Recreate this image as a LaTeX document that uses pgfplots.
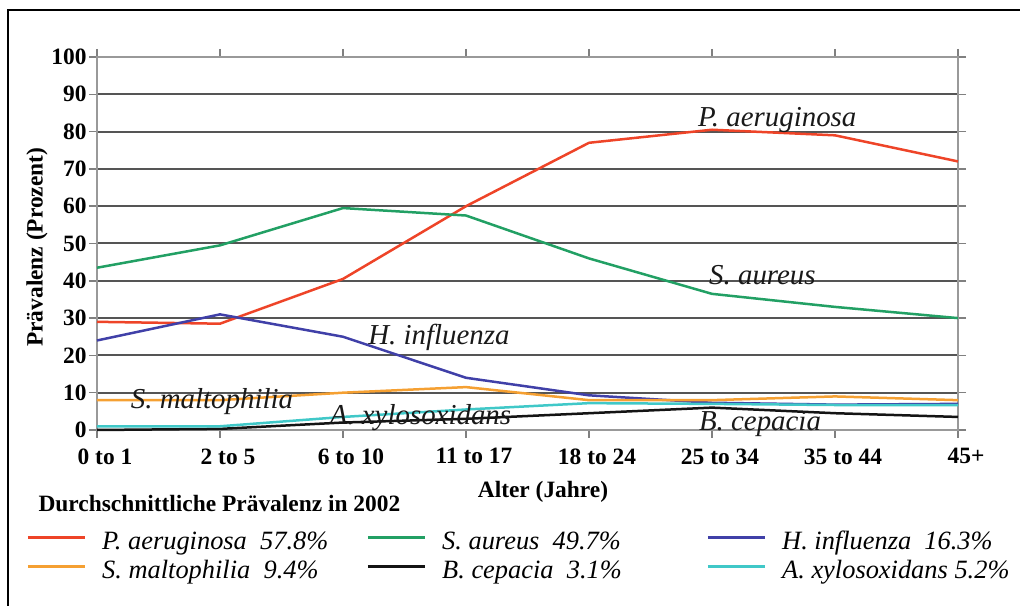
\documentclass[border=0pt]{standalone}
\usepackage{fontspec}
\setmainfont{Liberation Serif}
\usepackage{pgfplots}
\pgfplotsset{compat=1.18}
\definecolor{cRed}{RGB}{238,68,40}
\definecolor{cGreen}{RGB}{34,160,100}
\definecolor{cBlue}{RGB}{64,64,168}
\definecolor{cOrange}{RGB}{245,160,50}
\definecolor{cCyan}{RGB}{64,200,200}
\definecolor{cBlack}{RGB}{20,20,20}
\definecolor{cGrid}{RGB}{85,85,85}
\begin{document}
\begin{tikzpicture}
\path[use as bounding box] (0bp,0bp) rectangle (1020bp,606bp);
\draw[line width=2bp] (1021bp,596bp) -- (8bp,596bp) -- (8bp,-1bp);
\node[anchor=base west, font=\fontsize{23.5}{27}\selectfont\bfseries] at (35bp,94bp) {Durchschnittliche Prävalenz in 2002};
\begin{axis}[
  scale only axis,
  width=861bp, height=373bp,
  at={(97bp,176bp)}, anchor=south west,
  xmin=0, xmax=7, ymin=0, ymax=100,
  xtick={0,1,2,3,4,5,6,7},
  xticklabels={0 to 1,2 to 5,6 to 10,11 to 17,18 to 24,25 to 34,35 to 44,45+},
  ytick={0,10,...,100},
  ymajorgrids,
  major grid style={draw=cGrid, line width=2bp},
  x axis line style={draw=cGrid, line width=2bp},
  y axis line style={draw=black!40, line width=2.5bp},
  tick align=outside,
  major tick length=8bp,
  tick style={draw=black!50, line width=1.5bp},
  /pgf/number format/assume math mode=true,
  ticklabel style={font=\fontsize{23.5}{27}\selectfont\bfseries},
  xticklabel style={xshift=8bp, yshift=-7bp},
  yticklabel style={xshift=1bp},
  xlabel={Alter (Jahre)},
  ylabel={Prävalenz (Prozent)},
  label style={font=\fontsize{23.5}{27}\selectfont\bfseries},
  xlabel style={at={(axis description cs:0.518,-0.166)}, anchor=center},
  ylabel style={at={(axis description cs:-0.0697,0.49)}, anchor=center},
  clip=false,
  legend columns=3,
  legend image code/.code={\draw[#1, line width=3.5bp] (0bp,7bp) -- (57bp,7bp); \path (0bp,0bp) (73bp,0bp);},
  legend style={at={(axis description cs:-0.0859,-0.262)}, anchor=north west,
    draw=none, fill=none,
    font=\fontsize{26.5}{30}\selectfont\itshape,
    nodes={inner sep=0pt, text height=20bp, text depth=9bp}},
  every axis plot/.append style={line width=2.5bp},
]
\addplot[cRed] coordinates {(0,29) (1,28.5) (2,40.5) (3,60) (4,77) (5,80.5) (6,79) (7,72)};
\addlegendentry{\makebox[264bp][l]{P. aeruginosa\ \ 57.8\%}}
\addplot[cGreen] coordinates {(0,43.5) (1,49.5) (2,59.5) (3,57.5) (4,46) (5,36.5) (6,33) (7,30)};
\addlegendentry{\makebox[264bp][l]{S. aureus\ \ 49.7\%}}
\addplot[cBlue] coordinates {(0,24) (1,31) (2,25) (3,14) (4,9.3) (5,7.3) (6,6.8) (7,7)};
\addlegendentry{\makebox[264bp][l]{H. influenza\ \ 16.3\%}}
\addplot[cOrange] coordinates {(0,8) (1,8) (2,10) (3,11.5) (4,8) (5,8) (6,9) (7,8)};
\addlegendentry{\makebox[264bp][l]{S. maltophilia\ \ 9.4\%}}
\addplot[cBlack] coordinates {(0,0) (1,0.3) (2,2) (3,3) (4,4.5) (5,6) (6,4.5) (7,3.5)};
\addlegendentry{\makebox[264bp][l]{B. cepacia\ \ 3.1\%}}
\addplot[cCyan] coordinates {(0,1) (1,1) (2,3.5) (3,5.5) (4,7.2) (5,7) (6,6.7) (7,6.7)};
\addlegendentry{\makebox[264bp][l]{A. xylosoxidans 5.2\%}}
\begin{scope}[every node/.style={font=\fontsize{29}{33}\selectfont\itshape, text=black!90}]
\node at (axis cs:5.53,83.1) {P. aeruginosa};
\node at (axis cs:5.41,41.6) {S. aureus};
\node at (axis cs:2.78,24.7) {H. influenza};
\node at (axis cs:0.935,7.5) {S. maltophilia};
\node at (axis cs:2.63,3.2) {A. xylosoxidans};
\node at (axis cs:5.39,1.7) {B. cepacia};
\end{scope}
\end{axis}
\end{tikzpicture}
\end{document}
